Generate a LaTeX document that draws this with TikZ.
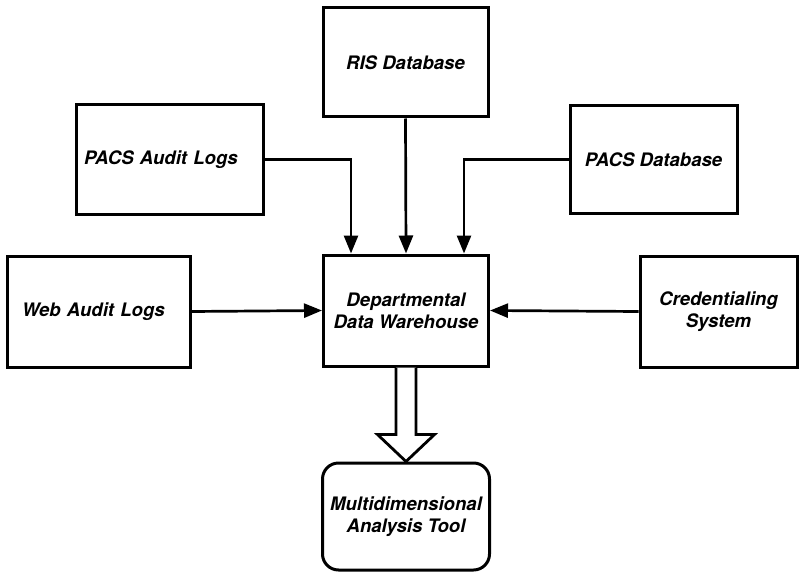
\documentclass[tikz,border=0pt]{standalone}
\usepackage{fontspec}
\setmainfont{TeX Gyre Heros}
\usetikzlibrary{arrows.meta,calc}

\tikzset{
  box/.style={draw, line width=3pt, minimum width=#1, inner sep=0pt,
              font=\fontsize{18.6}{22}\selectfont\bfseries\itshape, align=center},
  roundbox/.style={box=#1, rounded corners=16pt},
  feed/.style={line width=2.7pt, -{Triangle[length=18pt,width=14pt]}},
  hollow/.style={draw, fill=white, line width=2.8pt, line join=miter}
}

\begin{document}
\begin{tikzpicture}[x=1pt, y=-1pt]
  \useasboundingbox (0,0) rectangle (799,572);

  % source systems
  \node[box=165pt, minimum height=109pt] (ris) at (405.5,62.5) {RIS Database};
  \node[box=187pt, minimum height=109pt, text width=171pt, inner xsep=8pt, align=left]
       (pal) at (169.5,159.5) {PACS Audit Logs};
  \node[box=167pt, minimum height=108pt] (pdb) at (653.5,159.5) {PACS Database};
  \node[box=183pt, minimum height=111pt, text width=153pt, inner xsep=15pt, align=left]
       (wal) at (98.5,311.5) {Web Audit Logs};
  \node[box=157pt, minimum height=111pt] (cred) at (718.5,311.5) {Credentialing\\System};

  % warehouse and analysis tool
  \node[box=165pt, minimum height=111pt] (dw) at (406,310.5) {Departmental\\Data Warehouse};
  \node[roundbox=167pt, minimum height=107pt] (mat) at (406,516.5) {Multidimensional\\Analysis Tool};

  % feeds into the warehouse
  \draw[feed] (ris.south) -- (dw.north);
  \draw[feed] (pal.east) -| ([xshift=29pt]dw.north west);
  \draw[feed] (pdb.west) -| ([xshift=-26pt]dw.north east);
  \draw[feed] (wal.east) -- (dw.west);
  \draw[feed] (cred.west) -- (dw.east);

  % hollow block arrow down to the analysis tool
  \draw[hollow]
    ($(dw.south)+(-10,0)$) -- ($(mat.north)+(-10,-27)$) -- ($(mat.north)+(-28.5,-27)$)
    -- (mat.north)
    -- ($(mat.north)+(28.5,-27)$) -- ($(mat.north)+(10,-27)$) -- ($(dw.south)+(10,0)$);
\end{tikzpicture}
\end{document}
